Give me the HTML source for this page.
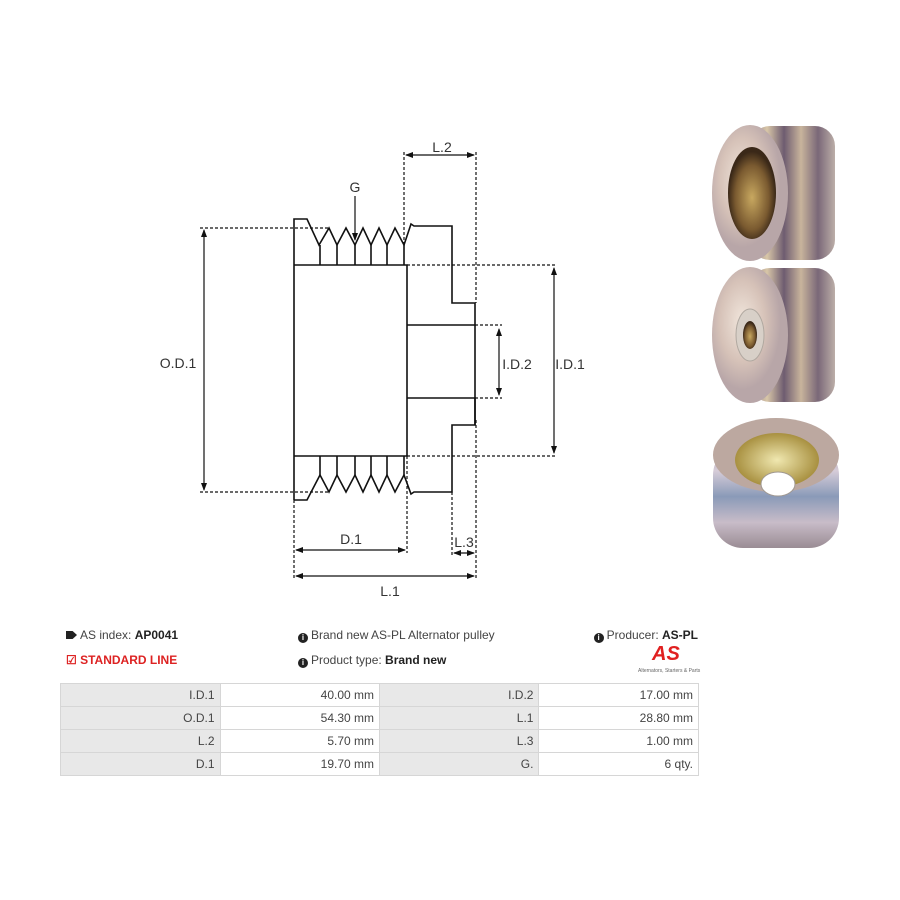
<!DOCTYPE html>
<html><head><meta charset="utf-8"><style>
body{margin:0;background:#fff;width:900px;height:900px;overflow:hidden;font-family:"Liberation Sans",sans-serif;}
.t{position:absolute;font-size:12px;color:#444;white-space:nowrap;}
.i{display:inline-block;width:10px;height:10px;border-radius:50%;background:#222;color:#fff;font-size:8px;font-weight:bold;text-align:center;line-height:10px;vertical-align:-1px;margin-right:3px;}
table{position:absolute;left:60px;top:683px;border-collapse:collapse;width:639px;font-size:12px;color:#444;}
td{height:22px;border:1px solid #d6d6d6;text-align:right;padding:0 5px;width:149px;}
td.g{background:#e8e8e8;}
</style></head><body>
<svg width="900" height="900" style="position:absolute;left:0;top:0" xmlns="http://www.w3.org/2000/svg">
<defs>
<marker id="a" markerWidth="8" markerHeight="8" refX="7" refY="4" orient="auto-start-reverse" markerUnits="userSpaceOnUse"><path d="M0,1 L8,4 L0,7z" fill="#111"/></marker>
<radialGradient id="m1" cx="40%" cy="40%"><stop offset="0" stop-color="#f1e6dc"/><stop offset="0.6" stop-color="#d6c2b8"/><stop offset="1" stop-color="#b8a6a8"/></radialGradient>
<linearGradient id="gr" x1="0" x2="1"><stop offset="0" stop-color="#8c7a86"/><stop offset="0.2" stop-color="#d8c6a8"/><stop offset="0.4" stop-color="#6e5c70"/><stop offset="0.6" stop-color="#c8b49c"/><stop offset="0.8" stop-color="#7a6878"/><stop offset="1" stop-color="#bcaea8"/></linearGradient>
<linearGradient id="gv" x1="0" y1="0" x2="0" y2="1"><stop offset="0" stop-color="#a898a0"/><stop offset="0.25" stop-color="#d6ccd8"/><stop offset="0.5" stop-color="#8a9ab8"/><stop offset="0.75" stop-color="#c8bcc8"/><stop offset="1" stop-color="#9a8c94"/></linearGradient>
<radialGradient id="in" cx="50%" cy="55%"><stop offset="0" stop-color="#c8a860"/><stop offset="0.7" stop-color="#7a5a30"/><stop offset="1" stop-color="#3a2818"/></radialGradient>
<radialGradient id="gold" cx="50%" cy="50%"><stop offset="0" stop-color="#f0e8b0"/><stop offset="1" stop-color="#a89040"/></radialGradient>
</defs>
<g fill="none" stroke="#111" stroke-width="1.6">
<path d="M294,500 V219 H307 L319,245 L329,228 L337,245 L346,228 L355,245 L363,228 L371,245 L379,228 L387,245 L395,228 L404,245 L411,224 L414,226 H452 V303 H475 V325 H407 M407,398 H475 V425 H452 V492 H414 L411,494 L404,475 L395,492 L387,475 L379,492 L371,475 L363,492 L355,475 L346,492 L337,475 L329,492 L320,475 L307,500 H294"/>
<path d="M294,265 H407 V456 H294"/>
<path d="M475,398 V425 M475,325 V398"/>
<path d="M320,245 V265 M337,245 V265 M355,245 V265 M371,245 V265 M387,245 V265 M404,245 V265 M320,456 V475 M337,456 V475 M355,456 V475 M371,456 V475 M387,456 V475 M404,456 V475"/>
</g>
<g fill="none" stroke="#111" stroke-width="1.2" stroke-dasharray="3,2">
<path d="M200,228 H330 M200,492 H330 M407,265 H557 M407,456 H557 M475,325 H502 M475,398 H502 M404,152 V245 M476,152 V303 M476,420 V580 M294,500 V580 M407,456 V553 M452,492 V556"/>
</g>
<g stroke="#111" stroke-width="1.2" fill="none">
<line x1="204" y1="230" x2="204" y2="490" marker-start="url(#a)" marker-end="url(#a)"/>
<line x1="554" y1="268" x2="554" y2="453" marker-start="url(#a)" marker-end="url(#a)"/>
<line x1="499" y1="329" x2="499" y2="395" marker-start="url(#a)" marker-end="url(#a)"/>
<line x1="406" y1="155" x2="474" y2="155" marker-start="url(#a)" marker-end="url(#a)"/>
<line x1="355" y1="196" x2="355" y2="240" marker-end="url(#a)"/>
<line x1="296" y1="550" x2="405" y2="550" marker-start="url(#a)" marker-end="url(#a)"/>
<line x1="454" y1="553" x2="474" y2="553" marker-start="url(#a)" marker-end="url(#a)"/>
<line x1="296" y1="576" x2="474" y2="576" marker-start="url(#a)" marker-end="url(#a)"/>
</g>
<g font-family="Liberation Sans,sans-serif" font-size="14" fill="#333" text-anchor="middle">
<text x="178" y="368">O.D.1</text><text x="517" y="369">I.D.2</text><text x="570" y="369">I.D.1</text>
<text x="442" y="152">L.2</text><text x="355" y="192">G</text><text x="351" y="544">D.1</text>
<text x="464" y="547">L.3</text><text x="390" y="596">L.1</text>
</g>
<rect x="750" y="126" width="85" height="134" rx="20" fill="url(#gr)"/>
<ellipse cx="750" cy="193" rx="38" ry="68" fill="url(#m1)"/>
<ellipse cx="752" cy="193" rx="24" ry="46" fill="url(#in)"/>
<rect x="750" y="268" width="85" height="134" rx="20" fill="url(#gr)"/>
<ellipse cx="750" cy="335" rx="38" ry="68" fill="url(#m1)"/>
<ellipse cx="750" cy="335" rx="14" ry="26" fill="#d8d0c8" stroke="#b0a8a0"/>
<ellipse cx="750" cy="335" rx="7" ry="14" fill="url(#in)"/>
<rect x="713" y="445" width="126" height="103" rx="30" fill="url(#gv)"/>
<ellipse cx="776" cy="455" rx="63" ry="37" fill="#bca8a0"/>
<ellipse cx="777" cy="460" rx="42" ry="27" fill="url(#gold)"/>
<ellipse cx="778" cy="484" rx="17" ry="12" fill="#fff" stroke="#a09890"/>
</svg>
<div class="t" style="left:66px;top:628px"><span style="display:inline-block;width:11px;height:8px;background:#222;clip-path:polygon(0 0,60% 0,100% 50%,60% 100%,0 100%);margin-right:3px"></span>AS index: <b style="color:#222">AP0041</b></div>
<div class="t" style="left:66px;top:653px;color:#d22;font-weight:bold">&#9745; STANDARD LINE</div>
<div class="t" style="left:298px;top:628px"><span class="i">i</span>Brand new AS-PL Alternator pulley</div>
<div class="t" style="left:298px;top:653px"><span class="i">i</span>Product type: <b style="color:#222">Brand new</b></div>
<div class="t" style="right:202px;top:628px"><span class="i">i</span>Producer: <b style="color:#222">AS-PL</b></div>
<div class="t" style="left:652px;top:643px;color:#e02020;font-size:20px;font-weight:bold;font-style:italic">AS</div>
<div class="t" style="left:638px;top:668px;font-size:5px;color:#666">Alternators, Starters &amp; Parts</div>
<table>
<tr><td class="g">I.D.1</td><td>40.00 mm</td><td class="g">I.D.2</td><td>17.00 mm</td></tr>
<tr><td class="g">O.D.1</td><td>54.30 mm</td><td class="g">L.1</td><td>28.80 mm</td></tr>
<tr><td class="g">L.2</td><td>5.70 mm</td><td class="g">L.3</td><td>1.00 mm</td></tr>
<tr><td class="g">D.1</td><td>19.70 mm</td><td class="g">G.</td><td>6 qty.</td></tr>
</table>
</body></html>
